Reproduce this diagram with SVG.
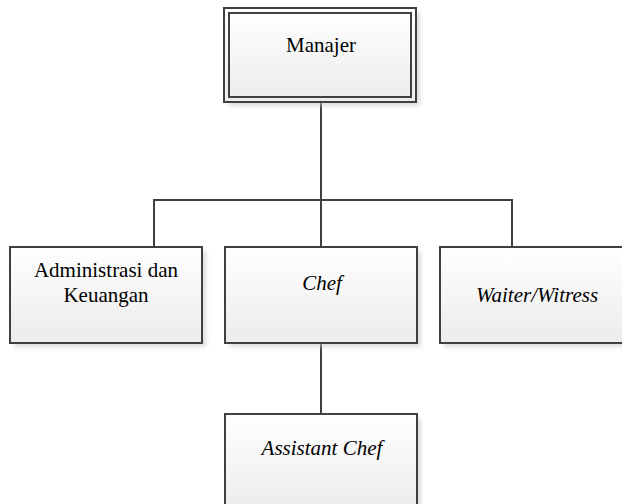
<svg xmlns="http://www.w3.org/2000/svg" width="622" height="504" viewBox="0 0 622 504">
<defs>
<linearGradient id="g" x1="0" y1="0" x2="0" y2="1">
<stop offset="0" stop-color="#ffffff"/>
<stop offset="1" stop-color="#ececec"/>
</linearGradient>
<filter id="sh" x="-10%" y="-10%" width="130%" height="130%">
<feGaussianBlur stdDeviation="2"/>
</filter>
</defs>
<style>
.box{fill:url(#g);stroke:#404040;stroke-width:2}
.inner{fill:none;stroke:#404040;stroke-width:2}
.shadow{fill:#c8c8c8;opacity:0.6;filter:url(#sh)}
.t{font-family:"Liberation Serif","Times New Roman",serif;font-size:21px;fill:#000;text-anchor:middle}
.i{font-style:italic}
.c{fill:none;stroke:#404040;stroke-width:2}
</style>
<rect width="622" height="504" fill="#fff"/>
<g id="connectors">
<path class="c" d="M321 102 V200"/>
<path class="c" d="M154 247 V200 H512 V247"/>
<path class="c" d="M321 200 V247"/>
<path class="c" d="M321 343 V414"/>
</g>
<g id="manajer">
<rect class="shadow" x="228" y="12" width="192" height="94"/>
<rect class="box" x="224" y="8" width="192" height="94"/>
<rect class="inner" x="229" y="13" width="182" height="84"/>
<text class="t" x="321" y="52">Manajer</text>
</g>
<g id="admin">
<rect class="shadow" x="14" y="251" width="192" height="96"/>
<rect class="box" x="10" y="247" width="192" height="96"/>
<text class="t" x="106" y="277">Administrasi dan</text>
<text class="t" x="106" y="302">Keuangan</text>
</g>
<g id="chef">
<rect class="shadow" x="229" y="251" width="192" height="96"/>
<rect class="box" x="225" y="247" width="192" height="96"/>
<text class="t i" x="322" y="290">Chef</text>
</g>
<g id="waiter">
<rect class="shadow" x="444" y="251" width="192" height="96"/>
<rect class="box" x="440" y="247" width="192" height="96"/>
<text class="t i" x="537" y="302">Waiter/Witress</text>
</g>
<g id="assistant">
<rect class="shadow" x="229" y="418" width="192" height="96"/>
<rect class="box" x="225" y="414" width="192" height="96"/>
<text class="t i" x="322" y="455">Assistant Chef</text>
</g>
</svg>
